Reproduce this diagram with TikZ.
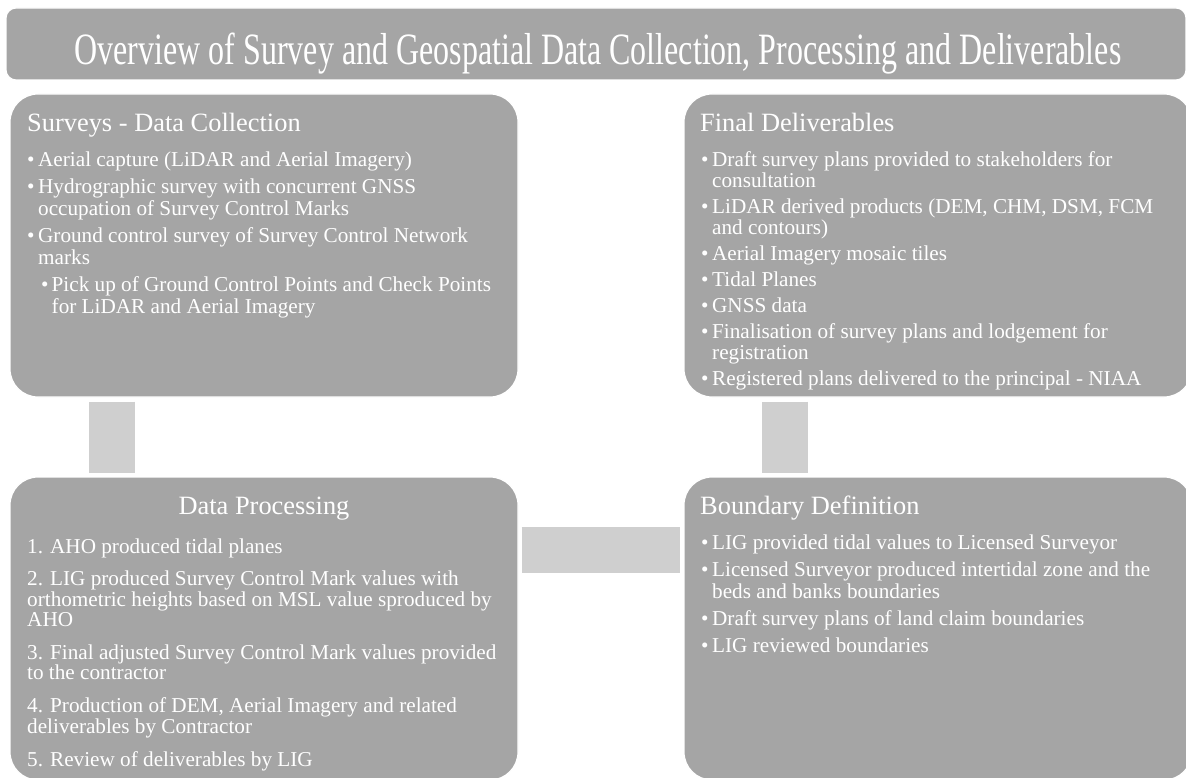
\documentclass[tikz,border=0pt]{standalone}
\usepackage{fontspec}
\setmainfont{Liberation Serif}
\usepackage{xcolor}
\usetikzlibrary{positioning, calc}

\definecolor{boxgray}{HTML}{A5A5A5}
\definecolor{linkgray}{HTML}{CFCFCF}

\newcommand{\bul}{\makebox[11pt][l]{\textbullet}}
\newcommand{\hang}{\hspace*{11pt}}
\newcommand{\subbul}{\hspace*{14pt}\makebox[10.5pt][l]{\textbullet}}
\newcommand{\subhang}{\hspace*{24.5pt}}

\begin{document}
\begin{tikzpicture}[x=1pt, y=-1pt,
    panel/.style={fill=boxgray, draw=white, line width=1.2pt, rounded corners=28pt,
      minimum width=508pt, minimum height=303pt, inner sep=0pt},
    heading/.style={text=white, font=\fontsize{26.4}{30}\selectfont, inner sep=0pt},
    body/.style={text=white, inner sep=0pt, anchor=base west},
    link/.style={draw=linkgray, line width=46pt}]
    \useasboundingbox (0,0) rectangle (1186,778);
    % Titulo
    \node[panel, rounded corners=10pt, minimum width=1180pt, minimum height=72pt] (title) at (596,44) {};
    \node[text=white, font=\fontsize{32}{36}\selectfont, anchor=base, inner sep=0pt] (titletext) at (598,65)
      {\scalebox{1}[1.4]{Overview of Survey and Geospatial Data Collection, Processing and Deliverables}};
    % Caixas
    \node[panel] (survey) at (264,245.5) {};
    \node[panel] (deliver) at (938,245.5) {};
    \node[panel] (process) at (264,628.5) {};
    \node[panel] (boundary) at (938,628.5) {};
    % Conectores
    \draw[link, shorten <=4pt, shorten >=3pt] ($(survey.south west)+(103,0)$) -- ($(process.north west)+(103,0)$);
    \draw[link, shorten <=4pt, shorten >=3pt] ($(deliver.south west)+(102,0)$) -- ($(boundary.north west)+(102,0)$);
    \draw[link, shorten <=3pt, shorten >=3pt] ($(process.north east)+(0,74)$) -- ($(boundary.north west)+(0,74)$);
    % Titulos das caixas
    \node[heading, anchor=base west] (surveyhead) at (27,131.5) {Surveys - Data Collection};
    \node[heading, anchor=base west] (deliverhead) at (700,131.5) {Final Deliverables};
    \node[heading, anchor=base] (processhead) at (264,514.5) {Data Processing};
    \node[heading, anchor=base west] (boundaryhead) at (700,514.5) {Boundary Definition};
    % Textos
    \node[body, font=\fontsize{21.2}{22}\selectfont] (surveybody) at (27,166.5) {\begin{tabular}[t]{@{}l@{}}
      \bul Aerial capture (LiDAR and Aerial Imagery)\\[5pt]
      \bul Hydrographic survey with concurrent GNSS\\
      \hang occupation of Survey Control Marks\\[5pt]
      \bul Ground control survey of Survey Control Network\\
      \hang marks\\[5pt]
      \subbul Pick up of Ground Control Points and Check Points\\
      \subhang for LiDAR and Aerial Imagery
    \end{tabular}};
    \node[body, font=\fontsize{21.2}{21}\selectfont] (deliverbody) at (701,166.5) {\begin{tabular}[t]{@{}l@{}}
      \bul Draft survey plans provided to stakeholders for\\
      \hang consultation\\[4.9pt]
      \bul LiDAR derived products (DEM, CHM, DSM, FCM\\
      \hang and contours)\\[4.9pt]
      \bul Aerial Imagery mosaic tiles\\[4.9pt]
      \bul Tidal Planes\\[4.9pt]
      \bul GNSS data\\[4.9pt]
      \bul Finalisation of survey plans and lodgement for\\
      \hang registration\\[4.9pt]
      \bul Registered plans delivered to the principal - NIAA
    \end{tabular}};
    \node[body, font=\fontsize{21.2}{20}\selectfont] (processbody) at (27,553) {\begin{tabular}[t]{@{}l@{}}
      1. AHO produced tidal planes\\[12pt]
      2. LIG produced Survey Control Mark values with\\
      orthometric heights based on MSL value sproduced by\\
      AHO\\[12pt]
      3. Final adjusted Survey Control Mark values provided\\
      to the contractor\\[12pt]
      4. Production of DEM, Aerial Imagery and related\\
      deliverables by Contractor\\[12pt]
      5. Review of deliverables by LIG
    \end{tabular}};
    \node[body, font=\fontsize{21.2}{22}\selectfont] (boundarybody) at (701,549) {\begin{tabular}[t]{@{}l@{}}
      \bul LIG provided tidal values to Licensed Surveyor\\[5pt]
      \bul Licensed Surveyor produced intertidal zone and the\\
      \hang beds and banks boundaries\\[5pt]
      \bul Draft survey plans of land claim boundaries\\[5pt]
      \bul LIG reviewed boundaries
    \end{tabular}};
\end{tikzpicture}
\end{document}
